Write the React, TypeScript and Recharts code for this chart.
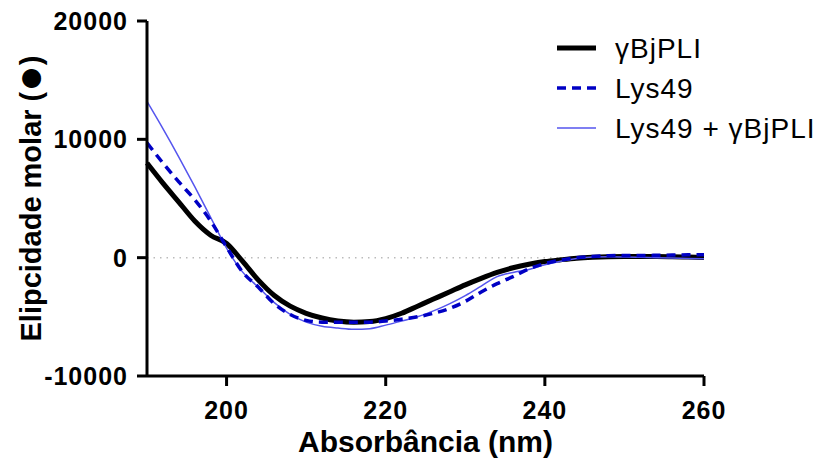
import { Line, LineChart, ReferenceLine, XAxis, YAxis } from 'recharts';

// wavelength grid (nm)
const wavelengths = [
  190, 192, 194, 196, 198, 200, 202, 204, 206, 208, 210, 212, 214, 216, 218, 220, 222, 224,
  226, 228, 230, 232, 234, 236, 238, 240, 242, 244, 246, 248, 250, 252, 254, 256, 258, 260,
];

const bjpli = [
  8000, 6300, 4700, 3100, 1900, 1200, -300, -1900, -3200, -4100, -4700, -5100, -5350, -5450,
  -5400, -5150, -4700, -4100, -3500, -2900, -2300, -1750, -1250, -850, -550, -330, -180, -50,
  30, 80, 100, 100, 100, 80, 50, 20,
];

const lys49 = [
  9700, 8000, 6400, 4900, 3100, 900, -1200, -2500, -3900, -4800, -5300, -5450, -5450, -5450,
  -5450, -5350, -5200, -5000, -4700, -4300, -3700, -2900, -2200, -1600, -950, -500, -200, 0,
  100, 160, 180, 180, 200, 220, 240, 250,
];

const lys49Bjpli = [
  13200, 10900, 8500, 6000, 3400, 800, -1200, -2500, -3800, -4800, -5450, -5800, -5950, -6050,
  -6000, -5700, -5350, -5000, -4500, -3900, -3200, -2400, -1600, -1250, -1000, -600, -300, -80,
  50, 80, 60, 30, 0, -30, -60, -90,
];

const xTicks = [200, 220, 240, 260];
const yTicks = [-10000, 0, 10000, 20000];

const series = [
  { key: 'bjpli', name: 'γBjPLI', color: '#000000', width: 5, dash: undefined },
  { key: 'lys49', name: 'Lys49', color: '#0000c4', width: 3.5, dash: '9 6' },
  { key: 'mix', name: 'Lys49 + γBjPLI', color: '#5555ee', width: 1.5, dash: undefined },
];

const data = wavelengths.map((nm, i) => ({
  nm,
  bjpli: bjpli[i],
  lys49: lys49[i],
  mix: lys49Bjpli[i],
}));

const FONT = 'Arial, "Liberation Sans", sans-serif';

const XTick = ({ x, y, payload }: any) => (
  <text x={x} y={y} dy={31} textAnchor="middle" fontFamily={FONT} fontWeight="bold" fontSize={25} letterSpacing={1} fill="#000">
    {payload.value}
  </text>
);

const YTick = ({ x, y, payload }: any) => (
  <text x={x - 7} y={y} dy={9} textAnchor="end" fontFamily={FONT} fontWeight="bold" fontSize={25} letterSpacing={1} fill="#000">
    {payload.value}
  </text>
);

const XTitle = ({ viewBox }: any) => (
  <text x={viewBox.x + viewBox.width / 2} y={viewBox.y + 76} textAnchor="middle" fontFamily={FONT} fontWeight="bold" fontSize={30} fill="#000">
    Absorbância (nm)
  </text>
);

const YTitle = ({ viewBox }: any) => {
  const cy = viewBox.y + viewBox.height / 2;
  return (
    <text x={41} y={cy} transform={`rotate(-90 41 ${cy})`} textAnchor="middle" fontFamily={FONT} fontWeight="bold" fontSize={29} fill="#000">
      Elipcidade molar  (<tspan fontSize={44} dy={3}>●</tspan><tspan dy={-3}>)</tspan>
    </text>
  );
};

function LegendBox() {
  return (
    <svg width={820} height={463} style={{ position: 'absolute', left: 0, top: 0, pointerEvents: 'none' }}>
      {series.map((s, i) => {
        const y = 48 + i * 40;
        return (
          <g key={s.key}>
            <line x1={557} x2={596} y1={y} y2={y} stroke={s.color} strokeWidth={s.width} strokeDasharray={s.dash} />
            <text x={615} y={y + 10} fontFamily={FONT} fontSize={28} letterSpacing={1} fill="#000">
              {s.name}
            </text>
          </g>
        );
      })}
    </svg>
  );
}

export default function App() {
  const drawOrder = [series[0], series[2], series[1]];
  return (
    <div style={{ position: 'absolute', left: 0, top: 0, width: 820, height: 463, background: '#fff' }}>
      <LineChart width={820} height={463} data={data} margin={{ top: 21, right: 116, bottom: 0, left: 0 }}>
        <XAxis
          dataKey="nm"
          type="number"
          domain={[190, 260]}
          ticks={xTicks}
          height={87}
          tickSize={10}
          stroke="#000"
          axisLine={{ stroke: '#000', strokeWidth: 3 }}
          tickLine={{ stroke: '#000', strokeWidth: 3 }}
          tick={<XTick />}
          label={<XTitle />}
        />
        <YAxis
          type="number"
          domain={[-10000, 20000]}
          ticks={yTicks}
          width={147}
          tickSize={10}
          stroke="#000"
          axisLine={{ stroke: '#000', strokeWidth: 3 }}
          tickLine={{ stroke: '#000', strokeWidth: 3 }}
          tick={<YTick />}
          label={<YTitle />}
        />
        <ReferenceLine y={0} stroke="#bbbbbb" strokeWidth={1.5} strokeDasharray="1.5 5" />
        {drawOrder.map((s) => (
          <Line
            key={s.key}
            dataKey={s.key}
            name={s.name}
            type="monotone"
            stroke={s.color}
            strokeWidth={s.width}
            strokeDasharray={s.dash}
            dot={false}
            activeDot={false}
            isAnimationActive={false}
          />
        ))}
      </LineChart>
      <LegendBox />
    </div>
  );
}
